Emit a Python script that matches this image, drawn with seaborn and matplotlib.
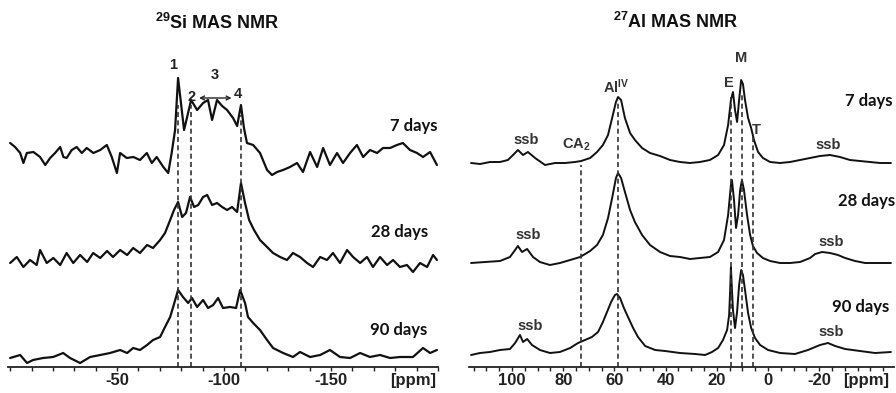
import numpy as np
import pandas as pd
import matplotlib
matplotlib.use("Agg")
import matplotlib.pyplot as plt
import seaborn as sns

# ---- 29Si spectra (ppm, intensity above own baseline) ----
si_ppm_7 = [0.0, -2.3, -4.7, -6.2, -7.8, -10.9, -14.0, -16.4, -18.7, -21.0, -23.4, -24.9, -26.4, -28.8,
            -31.1, -33.5, -35.8, -38.9, -42.1, -45.2, -47.5, -49.9, -51.4, -54.5, -57.6, -60.7, -63.9,
            -66.2, -68.5, -71.6, -73.9, -75.5, -77.1, -78.5, -81.3, -84.6, -87.4, -90.2, -92.5, -94.4,
            -96.7, -99.1, -101.4, -104.2, -106.1, -107.9, -109.3, -110.7, -113.6, -116.8, -120.1, -122.4,
            -124.8, -127.6, -130.8, -134.1, -136.9, -140.2, -143.5, -146.3, -149.5, -152.8, -155.6, -158.9,
            -162.1, -165.0, -168.2, -171.5, -174.3, -177.6, -180.8, -183.6, -186.9, -190.2, -193.0, -196.3,
            -199.5]
si_int_7 = [12, 8, 2, -8, 2, 3, -2, -10, -3, 2, 8, -2, -3, 5,
            8, 2, 7, 2, 5, 10, -2, -18, 2, -3, -2, -5, 2,
            -8, -2, -12, -18, 2, 25, 77, 25, 55, 45, 52, 55, 35,
            55, 49, 45, 37, 29, 50, 27, 12, 10, 2, -15, -20,
            -17, -15, -12, -8, -17, 3, -12, 7, -10, 2, -8, 2,
            10, -2, 5, 2, 7, 7, 10, 12, 5, 2, -2, 3,
            -10]

si_ppm_28 = [0.0, -3.1, -6.2, -9.3, -12.4, -14.0, -17.1, -20.2, -23.4, -26.4, -29.5, -32.7, -36.0, -38.8,
             -42.1, -45.3, -48.1, -51.4, -54.7, -57.5, -60.7, -64.0, -66.8, -70.1, -72.4, -74.8, -76.6,
             -78.5, -80.4, -82.2, -84.1, -86.0, -87.9, -90.2, -92.1, -94.4, -96.7, -99.1, -101.4, -103.7,
             -106.1, -107.9, -109.8, -111.7, -114.0, -116.8, -120.1, -122.9, -126.2, -129.4, -132.2, -135.5,
             -138.8, -141.6, -144.9, -148.1, -150.9, -154.2, -157.5, -160.3, -163.6, -166.8, -169.6, -172.9,
             -176.2, -179.0, -182.2, -185.5, -188.3, -191.6, -194.9, -197.7, -199.5]
si_int_28 = [-3, 3, -7, 0, -5, 10, -3, 2, -5, 7, -3, 5, -2, 7,
             2, 9, 3, 10, 5, 12, 7, 15, 12, 20, 27, 40, 50,
             58, 43, 47, 63, 53, 55, 63, 65, 55, 57, 53, 50, 53,
             48, 77, 57, 40, 30, 20, 13, 7, 3, 0, 7, 3,
             -3, -7, 3, 0, 7, -3, 10, 3, -3, 3, -7, 3,
             -5, 0, -7, -5, -12, -3, -7, 5, 0]

si_ppm_90 = [0.0, -4.7, -7.9, -10.7, -15.4, -20.1, -24.8, -28.0, -32.7, -37.4, -42.1, -46.7, -51.4, -54.7,
             -57.5, -60.7, -64.0, -66.8, -70.1, -72.4, -74.8, -76.2, -78.5, -80.8, -83.2, -85.0, -87.4,
             -90.2, -92.5, -94.9, -97.2, -99.5, -102.8, -105.6, -107.5, -109.8, -111.2, -113.6, -116.8,
             -120.1, -122.9, -127.6, -132.2, -135.5, -140.2, -144.9, -149.5, -154.2, -158.9, -163.6, -168.2,
             -172.9, -177.6, -182.2, -188.3, -193.0, -196.3, -199.5]
si_int_90 = [0, 3, -5, -2, 0, 1, 5, 0, -5, 1, 3, 5, 8, 5,
             10, 8, 13, 18, 21, 31, 41, 51, 68, 61, 55, 60, 51,
             58, 50, 53, 60, 50, 51, 50, 68, 55, 41, 35, 28,
             18, 10, 5, 1, 6, 1, 3, 8, 1, 0, 5, 1,
             3, 0, 1, 1, 10, 5, 8]

# ---- 27Al spectra ----
al_ppm_7 = [116.0, 112.5, 108.6, 104.7, 101.6, 99.6, 97.7, 95.7, 93.8, 91.0, 87.1, 83.2, 79.3, 75.4, 73.0,
            69.5, 66.8, 64.5, 62.5, 60.9, 59.4, 58.6, 57.4, 55.9, 53.9, 52.0, 49.2, 46.1, 42.2, 38.3, 34.4,
            30.5, 26.6, 22.7, 19.5, 17.2, 15.6, 14.5, 13.7, 12.9, 12.1, 11.3, 10.5, 9.8, 9.0, 7.8, 6.6,
            5.5, 3.9, 2.0, -0.8, -4.7, -8.6, -12.5, -16.4, -20.3, -24.2, -28.1, -32.0, -35.9, -39.8,
            -43.8, -48.0]
al_int_7 = [0, -1, 1, 1, 3, 8, 13, 8, 11, 5, -2, 0, 0, 1, 2,
            5, 11, 18, 28, 45, 61, 66, 63, 45, 30, 23, 15, 10, 7, 3, 1,
            0, 1, 3, 8, 18, 38, 63, 71, 53, 41, 63, 83, 79, 63, 45, 35,
            23, 11, 5, 1, 0, 1, 3, 5, 7, 8, 6, 3, 2, 1,
            0, 0]

al_ppm_28 = [116.0, 110.5, 104.7, 100.8, 98.8, 97.7, 96.1, 94.1, 91.8, 89.1, 85.2, 81.3, 77.3, 73.4, 69.5,
             66.8, 64.5, 62.5, 60.9, 59.4, 58.6, 57.4, 55.9, 53.9, 52.0, 49.2, 46.1, 42.2, 38.3, 34.4,
             30.5, 26.6, 22.7, 19.5, 17.2, 15.6, 14.5, 14.1, 13.3, 12.5, 11.7, 10.9, 10.2, 9.4, 8.2, 7.0,
             5.9, 4.3, 2.0, -0.8, -4.7, -8.6, -12.5, -16.4, -18.4, -21.1, -24.2, -27.3, -30.1, -34.0,
             -37.9, -43.8, -48.0]
al_int_28 = [-1, 0, 1, 5, 12, 16, 10, 13, 5, 0, -3, -1, 2, 5, 11,
             17, 27, 44, 64, 84, 89, 84, 70, 52, 40, 27, 17, 10, 6, 5,
             3, 4, 5, 10, 22, 47, 77, 82, 62, 34, 47, 72, 82, 72, 47, 27,
             16, 9, 4, 1, -1, -1, 0, 4, 8, 10, 9, 7, 4, 1,
             -1, -1, -1]

al_ppm_90 = [116.0, 112.5, 108.6, 104.7, 100.8, 98.8, 96.9, 95.7, 94.1, 92.2, 89.1, 85.2, 81.3, 77.3, 74.2,
             71.5, 68.8, 66.4, 64.5, 62.9, 61.3, 59.8, 59.0, 57.8, 56.3, 54.7, 52.7, 50.8, 48.0, 44.1,
             40.2, 34.4, 28.5, 24.6, 21.9, 19.5, 17.6, 16.0, 15.2, 14.8, 14.5, 14.1, 13.7, 12.9, 12.1,
             11.3, 10.5, 9.8, 9.0, 7.8, 6.6, 5.1, 3.1, 0.0, -4.7, -10.5, -15.6, -18.4, -20.3, -23.4,
             -26.2, -30.1, -35.9, -41.8, -48.0]
al_int_90 = [-1, 1, 2, 4, 5, 11, 19, 12, 15, 9, 4, 1, 2, 6, 11,
             14, 17, 22, 32, 42, 52, 59, 60, 56, 46, 37, 26, 17, 8, 4,
             3, 1, 0, -1, 2, 6, 14, 24, 39, 64, 87, 64, 44, 26, 42,
             69, 84, 79, 64, 41, 26, 16, 9, 4, 1, 0, 4, 7, 9, 11,
             8, 5, 3, 1, 2]

days = ["7 days", "28 days", "90 days"]
si_offsets = [212, 107, 9]
al_offsets = [204, 105, 13]

si_peaks = [-78.5, -84.6, -107.7]
si_peak_tops = [262, 262, 252]
al_peaks = [73.0, 58.6, 14.3, 10.2, 5.9]
al_peak_tops = [202, 267, 270, 272, 232]

sns.set_theme(style="white")
plt.rcParams["font.family"] = ["Liberation Sans", "DejaVu Sans"]
plt.rcParams["font.weight"] = "bold"
plt.rcParams["mathtext.fontset"] = "custom"
plt.rcParams["mathtext.rm"] = "Liberation Sans:bold"
plt.rcParams["mathtext.it"] = "Liberation Sans:bold"
plt.rcParams["mathtext.bf"] = "Liberation Sans:bold"

W, H = 896, 393
fig = plt.figure(figsize=(W / 100, H / 100), dpi=100)
ax1 = fig.add_axes([8 / W, 26 / H, 430 / W, 327 / H])
ax2 = fig.add_axes([468.5 / W, 26 / H, 425 / W, 327 / H])


def draw(ax, ppm, inten, offset, lw):
    df = pd.DataFrame({"ppm": ppm, "y": np.array(inten) + offset})
    sns.lineplot(data=df, x="ppm", y="y", ax=ax, color="#111111", lw=lw,
                 estimator=None, sort=False)


for p, i, o in zip([si_ppm_7, si_ppm_28, si_ppm_90], [si_int_7, si_int_28, si_int_90], si_offsets):
    draw(ax1, p, i, o, 1.6)
for p, i, o in zip([al_ppm_7, al_ppm_28, al_ppm_90], [al_int_7, al_int_28, al_int_90], al_offsets):
    draw(ax2, p, i, o, 1.4)

ax1.vlines(si_peaks, 0, si_peak_tops, colors="#333333", linestyles=(0, (3, 2)), lw=1.2)
ax2.vlines(al_peaks, 0, al_peak_tops, colors="#333333", linestyles=(0, (3, 2)), lw=1.2)

ax1.set_xlim(1, -200)
ax2.set_xlim(117, -49)
for ax in (ax1, ax2):
    ax.set_ylim(0, 327)
    ax.set_yticks([])
    ax.set_xlabel("")
    ax.set_ylabel("")
    for s in ("left", "top", "right"):
        ax.spines[s].set_visible(False)
    ax.spines["bottom"].set_color("#222222")
    ax.spines["bottom"].set_linewidth(1.3)
    ax.tick_params(axis="x", bottom=True, direction="out", length=3, width=1,
                   color="#222222", pad=1, labelsize=12, labelcolor="#222222")

si_ticks = np.arange(0, -201, -10)
ax1.set_xticks(si_ticks)
ax1.set_xticklabels([str(t) if t in (-50, -100, -150) else "" for t in si_ticks])
al_ticks = np.arange(115, -46, -5)
ax2.set_xticks(al_ticks)
ax2.set_xticklabels([str(t) if (t % 20 == 0 and -20 <= t <= 100) else "" for t in al_ticks])

tkw = dict(ha="center", va="center", fontsize=12, color="#222222", fontweight="bold")
ax1.text(-188.5, -13, "[ppm]", **tkw, clip_on=False)
ax2.text(-38.5, -13, "[ppm]", **tkw, clip_on=False)

# sample age labels
dkw = dict(ha="center", va="center", fontsize=12, color="#111111", fontweight="bold", family="Lato")
for lab, (x, y) in zip(days, [(-188.8, 241), (-182.2, 135), (-181.8, 37)]):
    ax1.text(x, y, lab, **dkw, clip_on=False)
for lab, (x, y) in zip(days, [(-39.5, 266), (-38.3, 166), (-36.3, 60)]):
    ax2.text(x, y, lab, **dkw, clip_on=False)

# peak labels, Si
pkw = dict(ha="center", va="center", fontsize=10.5, color="#222222", fontweight="bold")
ax1.text(-76.2, 302, "1", **pkw)
ax1.text(-84.6, 270, "2", **pkw)
ax1.text(-95.8, 292, "3", **pkw)
ax1.text(-106.5, 273, "4", **pkw)
ax1.annotate("", xy=(-88.3, 269), xytext=(-103.5, 269),
             arrowprops=dict(arrowstyle="<->", color="#222222", lw=1, shrinkA=0, shrinkB=0,
                             mutation_scale=7))

# peak labels, Al
akw = dict(ha="center", va="center", fontsize=10.5, color="#333333", fontweight="bold")
for x, y in [(94.5, 227), (-23.4, 222), (93.8, 132), (-24.6, 125), (93.0, 41), (-24.6, 35)]:
    ax2.text(x, y, "ssb", **akw)
ax2.text(75.0, 222, r"CA$_2$", **akw)
ax2.text(59.4, 280, r"Al$^{\mathrm{IV}}$", **akw)
ax2.text(15.2, 284, "E", **akw)
ax2.text(10.5, 309, "M", **akw)
ax2.text(4.5, 237, "T", **akw)

fig.text(217 / W, 1 - 23 / H, r"$^{29}$Si MAS NMR", ha="center", va="center",
         fontsize=13, fontweight="bold", color="#111111")
fig.text(676 / W, 1 - 22 / H, r"$^{27}$Al MAS NMR", ha="center", va="center",
         fontsize=13, fontweight="bold", color="#111111")

fig.savefig("out.png", dpi=100)
